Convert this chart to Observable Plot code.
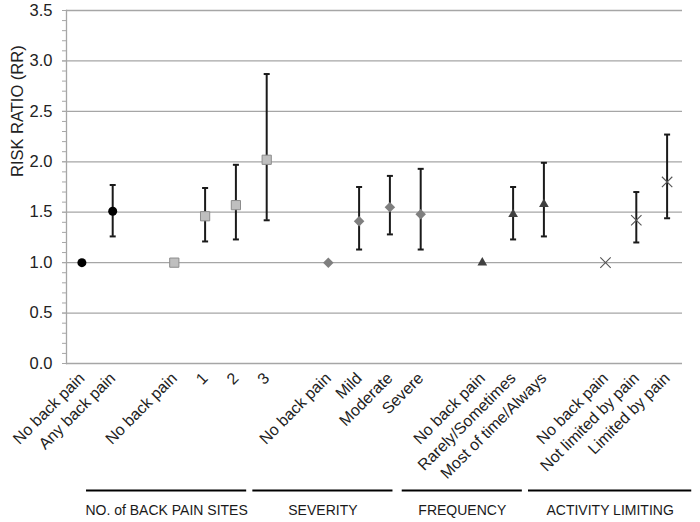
<!DOCTYPE html>
<html><head><meta charset="utf-8">
<script src="https://cdn.jsdelivr.net/npm/d3@7"></script>
<script src="https://cdn.jsdelivr.net/npm/@observablehq/plot@0.6"></script>
<style>
body{margin:0;background:#fff;}
#chart svg{display:block;}
</style></head><body><div id="chart"></div>
<script>
// category slots (blank slots separate the groups)
const slotLabels = ["No back pain","Any back pain","","No back pain","1","2","3","","No back pain","Mild","Moderate","Severe","","No back pain","Rarely/Sometimes","Most of time/Always","","No back pain","Not limited by pain","Limited by pain"];
const slots  = [0, 1, 3, 4, 5, 6, 8, 9, 10, 11, 13, 14, 15, 17, 18, 19];
const series = ["any","any","sites","sites","sites","sites","sev","sev","sev","sev","freq","freq","freq","act","act","act"];
const rr = [1.00, 1.51, 1.00, 1.46, 1.57, 2.02, 1.00, 1.41, 1.55, 1.48, 1.00, 1.48, 1.58, 1.00, 1.42, 1.80];
const lo = [null, 1.26, null, 1.21, 1.23, 1.42, null, 1.13, 1.28, 1.13, null, 1.23, 1.26, null, 1.20, 1.44];
const hi = [null, 1.77, null, 1.74, 1.97, 2.87, null, 1.75, 1.86, 1.93, null, 1.75, 1.99, null, 1.70, 2.27];
const yMajor = [0, 0.5, 1.0, 1.5, 2.0, 2.5, 3.0, 3.5];
const yTitle = "RISK RATIO (RR)";
const groupNames = ["NO. of BACK PAIN SITES", "SEVERITY", "FREQUENCY", "ACTIVITY LIMITING"];
const groupFrom = [0.15, 5.55, 10.4, 14.5];
const groupTo   = [5.35, 10.1, 14.3, 19.8];

const rows = slots.map((s, i) => ({slot: s, series: series[i], rr: rr[i], lo: lo[i], hi: hi[i]}));
const bars = rows.filter(d => d.lo != null);
const groups = groupNames.map((n, i) => ({name: n, from: groupFrom[i], to: groupTo[i]}));
const yMinor = d3.range(0, 36).map(i => i / 10);
const labelTicks = d3.range(slotLabels.length).filter(i => slotLabels[i] !== "");

const diamond = {draw(c, size) { const s = Math.sqrt(size / 2); c.moveTo(0, -s); c.lineTo(s, 0); c.lineTo(0, s); c.lineTo(-s, 0); c.closePath(); }};
const hline = {draw(c, size) { const w = Math.sqrt(size) / 2; c.moveTo(-w, 0); c.lineTo(w, 0); }};
const of = k => rows.filter(d => d.series === k);
const grey = "#a6a6a6";

const chart = Plot.plot({
  width: 700, height: 522,
  marginTop: 10, marginBottom: 159, marginLeft: 66, marginRight: 18,
  style: {fontFamily: "'Liberation Sans', Arial, sans-serif", background: "#fff", color: "#222"},
  x: {domain: [-0.5, 19.5]},
  y: {domain: [0, 3.5]},
  marks: [
    Plot.gridY({ticks: yMajor, stroke: grey, strokeOpacity: 1, strokeWidth: 1.3}),
    Plot.frame({anchor: "left", stroke: grey, strokeWidth: 1.3}),
    Plot.axisY({ticks: yMinor, tickSize: 4, tickFormat: () => "", label: null, stroke: grey}),
    Plot.axisY({ticks: yMajor, tickSize: 4, tickPadding: 10, tickFormat: d3.format(".1f"), fontSize: 16.5, stroke: grey, label: null}),
    Plot.text([yTitle], {text: d => d, frameAnchor: "left", rotate: -90, dx: -49, dy: -10, fontSize: 16.5, fill: "#222"}),
    Plot.axisX({ticks: labelTicks, tickFormat: i => slotLabels[i], tickRotate: -45, tickSize: 0, tickPadding: 12, fontSize: 16, label: null}),
    // error bars
    Plot.ruleX(bars, {x: "slot", y1: "lo", y2: "hi", stroke: "#1a1a1a", strokeWidth: 2}),
    Plot.dot(bars, {x: "slot", y: "lo", symbol: hline, r: 3.4, stroke: "#1a1a1a", strokeWidth: 2}),
    Plot.dot(bars, {x: "slot", y: "hi", symbol: hline, r: 3.4, stroke: "#1a1a1a", strokeWidth: 2}),
    // markers
    Plot.dot(of("any"),   {x: "slot", y: "rr", symbol: "circle", r: 4.5, fill: "#000"}),
    Plot.dot(of("sites"), {x: "slot", y: "rr", symbol: "square", r: 5.2, fill: "#bfbfbf", stroke: "#8c8c8c", strokeWidth: 1}),
    Plot.dot(of("sev"),   {x: "slot", y: "rr", symbol: diamond, r: 4.2, fill: "#7f7f7f"}),
    Plot.dot(of("freq"),  {x: "slot", y: "rr", symbol: "triangle", r: 3.6, fill: "#404040"}),
    Plot.dot(of("act"),   {x: "slot", y: "rr", symbol: "times", r: 4.8, stroke: "#555", strokeWidth: 1.1}),
    // group brackets
    Plot.ruleY(groups, {x1: "from", x2: "to", y: () => 0, dy: 127, stroke: "#000", strokeWidth: 2.2}),
    Plot.text(groups, {x: d => (d.from + d.to) / 2, frameAnchor: "bottom", lineAnchor: "middle", dy: 147, text: "name", fontSize: 14, fill: "#1a1a1a"})
  ]
});
document.getElementById("chart").append(chart);
</script></body></html>
